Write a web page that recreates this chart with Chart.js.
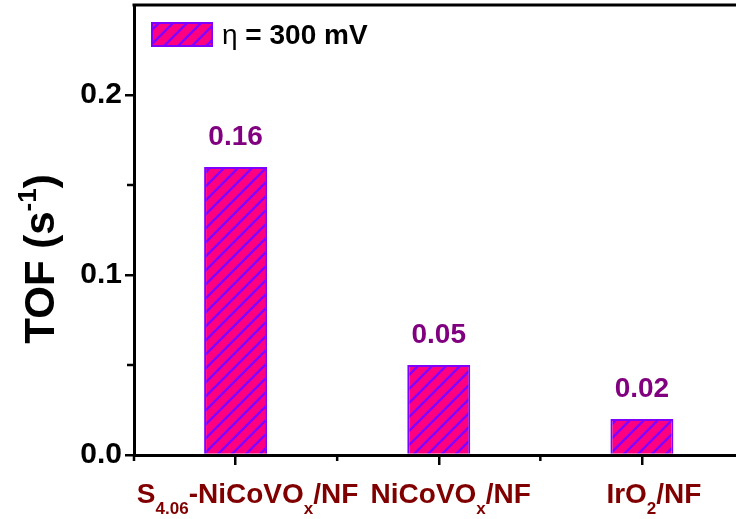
<!DOCTYPE html>
<html>
<head>
<meta charset="utf-8">
<script src="https://cdn.jsdelivr.net/npm/chart.js@4/dist/chart.umd.min.js"></script>
<style>
  html, body { margin: 0; padding: 0; width: 736px; height: 519px; overflow: hidden; background: #fff; }
  #wrap { position: absolute; left: 0; top: 0; width: 750px; height: 519px; }
</style>
</head>
<body>
<div id="wrap"><canvas id="c" width="750" height="519"></canvas></div>
<script>
// Catalyst labels use _{..} for subscripts and ^{..} for superscripts.
const categories = ['S_{4.06}-NiCoVO_{x}/NF', 'NiCoVO_{x}/NF', 'IrO_{2}/NF'];
const tofValues = [0.16, 0.05, 0.02];
const seriesLabel = 'η = 300 mV';
const yTicks = [0.0, 0.1, 0.2];
const yMinorTicks = [0.05, 0.15];
const yTitle = 'TOF (s^{-1})';

const FONT = '"Liberation Sans", Arial, Helvetica, sans-serif';
const FILL = '#ff0080';
const HATCH = '#8000ff';

// Diagonal hatch tile used for bars and the legend swatch.
function hatchTile() {
  const s = 14;
  const c = document.createElement('canvas');
  c.width = c.height = s;
  const g = c.getContext('2d');
  g.fillStyle = FILL;
  g.fillRect(0, 0, s, s);
  g.strokeStyle = HATCH;
  g.lineWidth = 2.4;
  g.beginPath();
  g.moveTo(-s / 2, s / 2); g.lineTo(s / 2, -s / 2);
  g.moveTo(0, s); g.lineTo(s, 0);
  g.moveTo(s / 2, s * 1.5); g.lineTo(s * 1.5, s / 2);
  g.stroke();
  return c;
}

// Split into plain / subscript / superscript runs; Greek letters get their own run.
function parseRich(str) {
  const out = [];
  const re = /([_^])\{([^}]*)\}|([\u0370-\u03ff]+)|([^_^\u0370-\u03ff]+)/g;
  let m;
  while ((m = re.exec(str))) {
    if (m[3]) out.push({ t: m[3], k: 0, greek: true });
    else if (m[4]) out.push({ t: m[4], k: 0 });
    else out.push({ t: m[2], k: m[1] === '_' ? -1 : 1 });
  }
  return out;
}

function drawRich(ctx, str, x, y, size, color, align) {
  const segs = parseRich(str);
  const font = (s) => `${s.greek ? 'normal' : 'bold'} ${s.k ? Math.round(size * 0.62) : size}px ${FONT}`;
  let w = 0;
  segs.forEach(s => { ctx.font = font(s); s.w = ctx.measureText(s.t).width; w += s.w; });
  let cx = align === 'center' ? x - w / 2 : x;
  ctx.fillStyle = color;
  ctx.textAlign = 'left';
  ctx.textBaseline = 'alphabetic';
  segs.forEach(s => {
    ctx.font = font(s);
    const dy = s.k < 0 ? size * 0.4 : (s.k > 0 ? -size * 0.42 : 0);
    ctx.fillText(s.t, cx, y + dy);
    cx += s.w;
  });
}

const canvas = document.getElementById('c');
const ctx = canvas.getContext('2d');
const pattern = ctx.createPattern(hatchTile(), 'repeat');

const decor = {
  id: 'decor',
  afterDatasetsDraw(chart) {
    const c = chart.ctx;
    const meta = chart.getDatasetMeta(0);
    // value labels above each bar
    c.save();
    c.fillStyle = '#800080';
    c.font = `bold 28px ${FONT}`;
    c.textAlign = 'center';
    c.textBaseline = 'alphabetic';
    meta.data.forEach((bar, i) => {
      c.fillText(tofValues[i].toFixed(2), bar.x, bar.y - 22);
    });
    c.restore();
  },
  afterDraw(chart) {
    const c = chart.ctx;
    const a = chart.chartArea;
    const xs = chart.scales.x, ys = chart.scales.y;
    c.save();
    c.strokeStyle = '#000';
    c.lineCap = 'butt';

    // top frame
    c.lineWidth = 3;
    c.beginPath();
    c.moveTo(a.left - 1.5, a.top);
    c.lineTo(chart.width, a.top);
    c.stroke();

    // minor ticks
    c.lineWidth = 2.5;
    c.beginPath();
    const n = categories.length;
    for (let k = 0; k <= n; k++) {
      const x = a.left + k * (a.right - a.left) / n;
      c.moveTo(x, a.bottom);
      c.lineTo(x, a.bottom + 6);
    }
    yMinorTicks.forEach(v => {
      const y = ys.getPixelForValue(v);
      c.moveTo(a.left, y);
      c.lineTo(a.left - 7, y);
    });
    c.stroke();

    // category labels
    categories.forEach((lab, i) => {
      drawRich(c, lab, xs.getPixelForTick(i) + 12, 503, 28, '#800000', 'center');
    });

    // y axis title
    c.save();
    c.translate(54, 259);
    c.rotate(-Math.PI / 2);
    drawRich(c, yTitle, 0, 0, 42, '#000', 'center');
    c.restore();

    // legend
    const bx = 151, by = 22, bw = 62, bh = 25;
    c.fillStyle = pattern;
    c.fillRect(bx, by, bw, bh);
    c.strokeStyle = HATCH;
    c.lineWidth = 2;
    c.strokeRect(bx + 1, by + 1, bw - 2, bh - 2);
    drawRich(c, chart.data.datasets[0].label, 222, 44, 28, '#000', 'left');
    c.restore();
  }
};

new Chart(ctx, {
  type: 'bar',
  data: {
    labels: categories,
    datasets: [{
      label: seriesLabel,
      data: tofValues,
      backgroundColor: pattern,
      borderColor: HATCH,
      borderWidth: 2,
      barPercentage: 0.31,
      categoryPercentage: 1.0
    }]
  },
  options: {
    responsive: false,
    animation: false,
    devicePixelRatio: 1,
    layout: { padding: { top: 5, right: 6.5, left: 0, bottom: 0 } },
    plugins: { legend: { display: false }, tooltip: { enabled: false } },
    scales: {
      x: {
        z: 1,
        offset: true,
        grid: { offset: false, drawOnChartArea: false, drawTicks: true, tickLength: 10, color: '#000', lineWidth: 2.5 },
        border: { display: true, color: '#000', width: 3 },
        ticks: { display: false },
        afterFit(s) { s.height = 64; s.paddingLeft = 0; s.paddingRight = 0; }
      },
      y: {
        z: 1,
        min: 0,
        max: 0.25,
        afterBuildTicks(s) { s.ticks = yTicks.map(v => ({ value: v })); },
        grid: { drawOnChartArea: false, drawTicks: true, tickLength: 9, color: '#000', lineWidth: 2.5 },
        border: { display: true, color: '#000', width: 3 },
        ticks: {
          color: '#000',
          font: { family: FONT, size: 30, weight: 'bold' },
          padding: 3,
          callback: v => Number(v).toFixed(1)
        },
        afterFit(s) { s.width = 134; s.paddingTop = 0; s.paddingBottom = 0; }
      }
    }
  },
  plugins: [decor]
});
</script>
</body>
</html>
